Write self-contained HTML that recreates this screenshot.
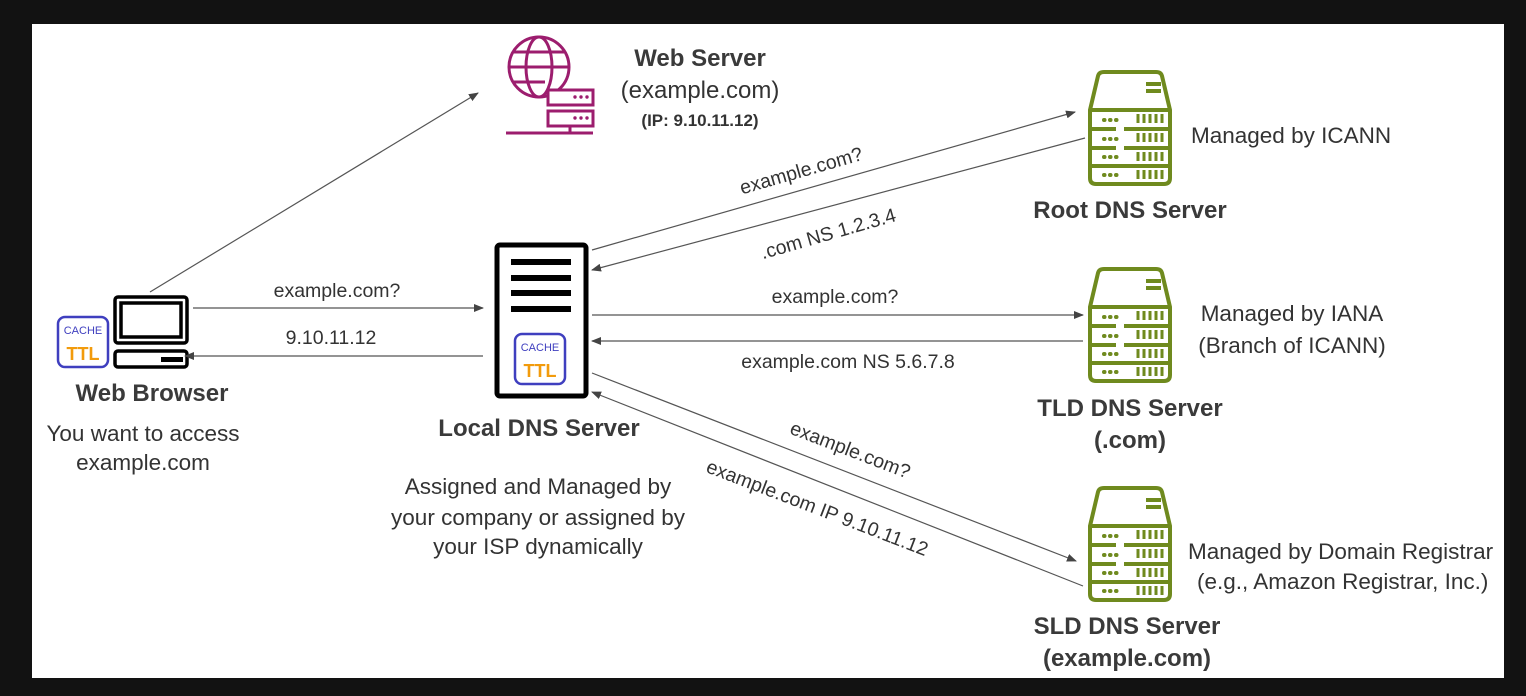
<!DOCTYPE html>
<html><head><meta charset="utf-8"><style>
body{margin:0;background:#121212;width:1526px;height:696px;overflow:hidden}
svg{position:absolute;left:0;top:0}
text{font-family:"Liberation Sans",sans-serif;fill:#333}
.b{font-weight:bold;font-size:24px;fill:#3a3a3a}
.n{font-size:22.5px}
.s{font-size:19.5px}
</style></head><body>
<svg width="1526" height="696" viewBox="0 0 1526 696">
<defs>
<marker id="a" markerWidth="10" markerHeight="8" refX="9" refY="4" orient="auto" markerUnits="userSpaceOnUse">
<path d="M0,0 L10,4 L0,8 Z" fill="#444"/></marker>
<g id="srv" fill="none" stroke="#6f8a1e" stroke-width="4" stroke-linejoin="round">
<path d="M4,40 L4,108 Q4,114 10,114 L78,114 Q84,114 84,108 L84,40 L76,6 Q75,2 70,2 L18,2 Q13,2 12,6 L4,40 Z"/>
<line x1="4" y1="40" x2="84" y2="40"/>
<line x1="4" y1="59" x2="30" y2="59"/><line x1="38" y1="59" x2="84" y2="59"/>
<line x1="4" y1="78" x2="30" y2="78"/><line x1="38" y1="78" x2="84" y2="78"/>
<line x1="4" y1="96" x2="84" y2="96"/>
<line x1="60" y1="14" x2="75" y2="14"/><line x1="60" y1="21" x2="75" y2="21"/>
<g stroke-width="4" stroke-linecap="round">
<path d="M18,50h0.5M24,50h0.5M30,50h0.5 M18,69h0.5M24,69h0.5M30,69h0.5 M18,87h0.5M24,87h0.5M30,87h0.5 M18,105h0.5M24,105h0.5M30,105h0.5"/>
</g>
<g stroke-width="3">
<path d="M52,44v9M58,44v9M64,44v9M70,44v9M76,44v9 M52,63v9M58,63v9M64,63v9M70,63v9M76,63v9 M52,82v9M58,82v9M64,82v9M70,82v9M76,82v9 M52,100v9M58,100v9M64,100v9M70,100v9M76,100v9"/>
</g></g>
<g id="cache">
<rect x="0" y="0" width="50" height="50" rx="7" fill="#fff" stroke="#3f3fbf" stroke-width="2.5"/>
<text x="25" y="17" text-anchor="middle" style="font-size:11px;fill:#3f3fbf">CACHE</text>
<text x="25" y="43" text-anchor="middle" style="font-size:18px;font-weight:bold;fill:#f29b0c">TTL</text>
</g>
</defs>
<rect x="32" y="24" width="1472" height="654" fill="#fff"/>

<g fill="none" stroke="#9c1d6e" stroke-width="3">
<circle cx="539" cy="67" r="30"/>
<ellipse cx="539" cy="67" rx="13" ry="30"/>
<line x1="509" y1="67" x2="569" y2="67"/>
<path d="M514,52 H564 M514,82 H545"/>
<rect x="548" y="90" width="45" height="15" fill="#fff"/>
<rect x="548" y="111" width="45" height="15" fill="#fff"/>
<path d="M506,133 H593 M570,126 V133"/>
</g>
<g fill="#9c1d6e"><circle cx="575" cy="97" r="1.7"/><circle cx="581" cy="97" r="1.7"/><circle cx="587" cy="97" r="1.7"/><circle cx="575" cy="118" r="1.7"/><circle cx="581" cy="118" r="1.7"/><circle cx="587" cy="118" r="1.7"/></g>
<text x="700" y="66" text-anchor="middle" class="b">Web Server</text>
<text x="700" y="98" text-anchor="middle" class="n" style="font-size:24px">(example.com)</text>
<text x="700" y="126" text-anchor="middle" style="font-size:17px;font-weight:bold;fill:#333">(IP: 9.10.11.12)</text>

<use href="#srv" x="1086" y="70"/>
<use href="#srv" x="1086" y="267"/>
<use href="#srv" x="1086" y="486"/>
<text x="1130" y="218" text-anchor="middle" class="b">Root DNS Server</text>
<text x="1191" y="143" class="n">Managed by ICANN</text>
<text x="1130" y="416" text-anchor="middle" class="b">TLD DNS Server</text>
<text x="1130" y="448" text-anchor="middle" class="b">(.com)</text>
<text x="1292" y="321" text-anchor="middle" class="n">Managed by IANA</text>
<text x="1292" y="353" text-anchor="middle" class="n">(Branch of ICANN)</text>
<text x="1127" y="634" text-anchor="middle" class="b">SLD DNS Server</text>
<text x="1127" y="666" text-anchor="middle" class="b">(example.com)</text>
<text x="1188" y="559" class="n">Managed by Domain Registrar</text>
<text x="1197" y="589" class="n">(e.g., Amazon Registrar, Inc.)</text>

<use href="#cache" x="58" y="317"/>
<g fill="none" stroke="#000" stroke-width="3.5">
<rect x="115" y="297" width="72" height="46" rx="3"/>
<rect x="121" y="303" width="60" height="34"/>
<rect x="115" y="351" width="72" height="16" rx="3"/>
</g>
<rect x="161" y="357" width="22" height="5" fill="#000"/>
<text x="152" y="401" text-anchor="middle" class="b">Web Browser</text>
<text x="143" y="441" text-anchor="middle" class="n">You want to access</text>
<text x="143" y="470" text-anchor="middle" class="n">example.com</text>

<rect x="497" y="245" width="89" height="151" rx="3" fill="none" stroke="#000" stroke-width="5"/>
<rect x="511" y="259" width="60" height="6" fill="#000"/>
<rect x="511" y="275" width="60" height="6" fill="#000"/>
<rect x="511" y="290" width="60" height="6" fill="#000"/>
<rect x="511" y="306" width="60" height="6" fill="#000"/>
<use href="#cache" x="515" y="334"/>
<text x="539" y="436" text-anchor="middle" class="b">Local DNS Server</text>
<text x="538" y="494" text-anchor="middle" class="n">Assigned and Managed by</text>
<text x="538" y="525" text-anchor="middle" class="n">your company or assigned by</text>
<text x="538" y="554" text-anchor="middle" class="n">your ISP dynamically</text>

<g stroke="#555" stroke-width="1.2" marker-end="url(#a)">
<line x1="150" y1="292" x2="478" y2="93"/>
<line x1="193" y1="308" x2="483" y2="308"/>
<line x1="483" y1="356" x2="185" y2="356"/>
<line x1="592" y1="250" x2="1075" y2="112"/>
<line x1="1085" y1="138" x2="592" y2="270"/>
<line x1="592" y1="315" x2="1083" y2="315"/>
<line x1="1083" y1="341" x2="592" y2="341"/>
<line x1="592" y1="373" x2="1076" y2="561"/>
<line x1="1083" y1="586" x2="592" y2="392"/>
</g>
<text x="337" y="297" text-anchor="middle" class="s">example.com?</text>
<text x="331" y="344" text-anchor="middle" class="s">9.10.11.12</text>
<text x="835" y="303" text-anchor="middle" class="s">example.com?</text>
<text x="848" y="368" text-anchor="middle" class="s">example.com NS 5.6.7.8</text>
<text transform="translate(803,177) rotate(-16)" text-anchor="middle" class="s">example.com?</text>
<text transform="translate(830,240) rotate(-16)" text-anchor="middle" class="s">.com NS 1.2.3.4</text>
<text transform="translate(848,456) rotate(21)" text-anchor="middle" class="s">example.com?</text>
<text transform="translate(815,514) rotate(21)" text-anchor="middle" class="s">example.com IP 9.10.11.12</text>
</svg>
</body></html>
